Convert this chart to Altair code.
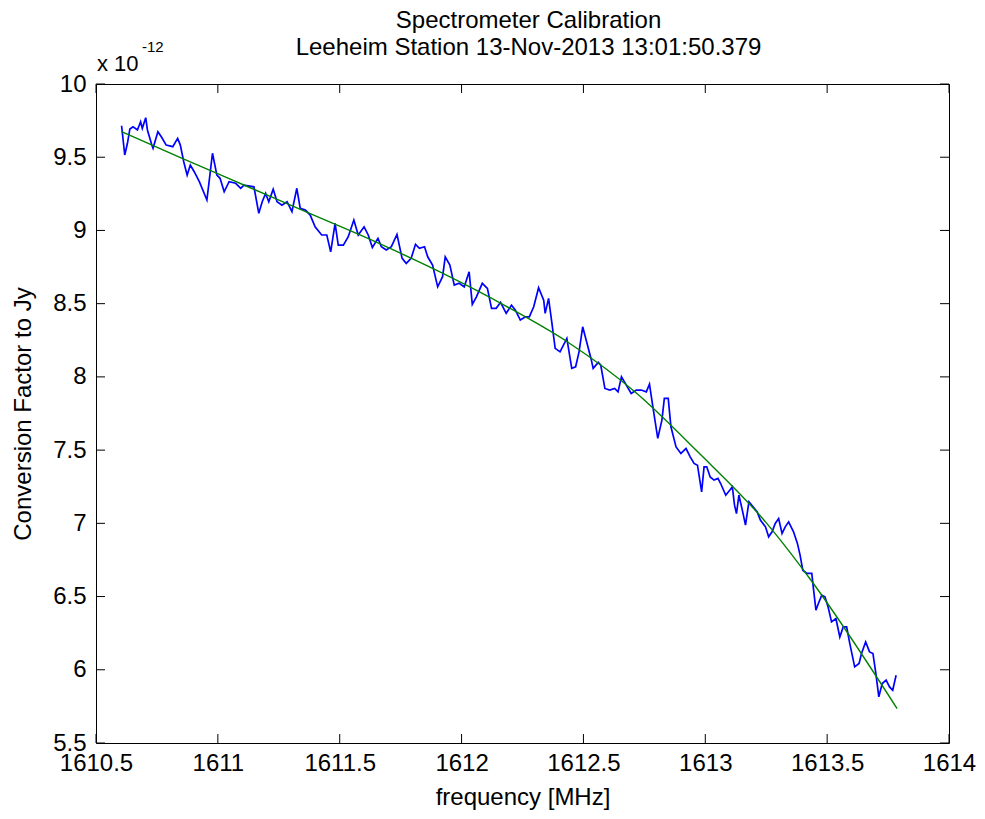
import altair as alt
import pandas as pd

FONT = "Liberation Sans"
FS = 24

# Measured spectrum (blue)
freq_blue = [1610.605, 1610.618, 1610.629, 1610.639, 1610.652, 1610.670, 1610.683, 1610.690, 1610.704, 1610.711,
             1610.729, 1610.734, 1610.754, 1610.768, 1610.788, 1610.815, 1610.835, 1610.846, 1610.860, 1610.874,
             1610.887, 1610.903, 1610.924, 1610.955, 1610.969, 1610.978, 1610.996, 1611.009, 1611.026, 1611.046,
             1611.073, 1611.094, 1611.107, 1611.148, 1611.168, 1611.182, 1611.196, 1611.209, 1611.227, 1611.243,
             1611.263, 1611.284, 1611.304, 1611.324, 1611.338, 1611.359, 1611.379, 1611.399, 1611.426, 1611.447,
             1611.463, 1611.481, 1611.494, 1611.515, 1611.535, 1611.558, 1611.576, 1611.600, 1611.617, 1611.634,
             1611.657, 1611.671, 1611.691, 1611.712, 1611.735, 1611.756, 1611.773, 1611.793, 1611.811, 1611.827,
             1611.848, 1611.861, 1611.881, 1611.902, 1611.922, 1611.933, 1611.952, 1611.970, 1611.990, 1612.011,
             1612.031, 1612.044, 1612.061, 1612.085, 1612.106, 1612.123, 1612.142, 1612.160, 1612.183, 1612.205,
             1612.221, 1612.241, 1612.262, 1612.278, 1612.296, 1612.316, 1612.337, 1612.343, 1612.357, 1612.370,
             1612.384, 1612.404, 1612.418, 1612.432, 1612.452, 1612.468, 1612.482, 1612.497, 1612.513, 1612.531,
             1612.540, 1612.561, 1612.571, 1612.588, 1612.608, 1612.628, 1612.642, 1612.656, 1612.676, 1612.696,
             1612.717, 1612.737, 1612.758, 1612.771, 1612.785, 1612.805, 1612.822, 1612.832, 1612.848, 1612.859,
             1612.880, 1612.900, 1612.921, 1612.938, 1612.954, 1612.968, 1612.985, 1612.995, 1613.006, 1613.020,
             1613.036, 1613.052, 1613.063, 1613.084, 1613.101, 1613.111, 1613.120, 1613.128, 1613.138, 1613.152,
             1613.165, 1613.179, 1613.196, 1613.213, 1613.226, 1613.247, 1613.260, 1613.274, 1613.287, 1613.301,
             1613.315, 1613.328, 1613.342, 1613.362, 1613.378, 1613.389, 1613.400, 1613.417, 1613.437, 1613.443,
             1613.454, 1613.464, 1613.478, 1613.491, 1613.504, 1613.518, 1613.536, 1613.552, 1613.566, 1613.580,
             1613.593, 1613.613, 1613.631, 1613.641, 1613.658, 1613.674, 1613.688, 1613.699, 1613.712, 1613.726,
             1613.742, 1613.756, 1613.769, 1613.783]
conv_blue = [9.715, 9.515, 9.595, 9.693, 9.708, 9.686, 9.742, 9.697, 9.770, 9.686,
             9.583, 9.561, 9.674, 9.640, 9.583, 9.572, 9.629, 9.583, 9.469, 9.378,
             9.447, 9.401, 9.333, 9.208, 9.401, 9.527, 9.378, 9.356, 9.264, 9.333,
             9.322, 9.288, 9.310, 9.298, 9.117, 9.196, 9.253, 9.196, 9.281, 9.196,
             9.173, 9.196, 9.128, 9.288, 9.151, 9.139, 9.105, 9.025, 8.969, 8.969,
             8.854, 9.048, 8.900, 8.900, 8.957, 9.071, 8.969, 9.025, 8.969, 8.884,
             8.946, 8.889, 8.866, 8.889, 8.973, 8.809, 8.775, 8.809, 8.905, 8.878,
             8.889, 8.820, 8.764, 8.615, 8.684, 8.820, 8.764, 8.627, 8.639, 8.615,
             8.718, 8.495, 8.547, 8.639, 8.604, 8.468, 8.468, 8.509, 8.434, 8.490,
             8.456, 8.388, 8.410, 8.410, 8.479, 8.609, 8.524, 8.434, 8.536, 8.376,
             8.195, 8.171, 8.217, 8.263, 8.058, 8.069, 8.171, 8.342, 8.240, 8.126,
             8.058, 8.099, 8.080, 7.921, 7.910, 7.921, 7.898, 8.001, 7.944, 7.887,
             7.910, 7.910, 7.898, 7.951, 7.796, 7.580, 7.705, 7.853, 7.853, 7.659,
             7.522, 7.477, 7.511, 7.454, 7.409, 7.397, 7.215, 7.386, 7.386, 7.317,
             7.295, 7.307, 7.272, 7.192, 7.227, 7.249, 7.124, 7.067, 7.192, 7.090,
             6.988, 7.147, 7.113, 7.078, 7.022, 6.976, 6.908, 6.942, 6.999, 7.033,
             6.931, 6.976, 7.010, 6.942, 6.863, 6.783, 6.680, 6.658, 6.658, 6.566,
             6.407, 6.453, 6.509, 6.498, 6.429, 6.327, 6.350, 6.224, 6.293, 6.293,
             6.179, 6.020, 6.043, 6.111, 6.190, 6.122, 6.111, 5.985, 5.815, 5.906,
             5.929, 5.883, 5.860, 5.963]

# Polynomial fit (green)
freq_fit = [1610.605, 1610.849, 1611.121, 1611.379, 1611.657, 1611.909, 1612.180,
            1612.438, 1612.717, 1612.968, 1613.247, 1613.430, 1613.787]
conv_fit = [9.675, 9.495, 9.300, 9.115, 8.915, 8.718, 8.485,
            8.235, 7.890, 7.490, 7.010, 6.620, 5.735]

x_ticks = [1610.5, 1611, 1611.5, 1612, 1612.5, 1613, 1613.5, 1614]
y_ticks = [5.5, 6, 6.5, 7, 7.5, 8, 8.5, 9, 9.5, 10]

title_line1 = ["Spectrometer Calibration"]
title_line2 = ["Leeheim Station 13-Nov-2013 13:01:50.379"]
x_title = "frequency [MHz]"
y_title = "Conversion Factor to Jy"
exp_base = ["x 10"]
exp_power = ["-12"]

W, H = 853, 659

blue_df = pd.DataFrame({"f": freq_blue, "c": conv_blue})
fit_df = pd.DataFrame({"f": freq_fit, "c": conv_fit})
xt_df = pd.DataFrame({"f": x_ticks})
yt_df = pd.DataFrame({"c": y_ticks})

xs = alt.Scale(domain=[1610.5, 1614], nice=False, zero=False)
ys = alt.Scale(domain=[5.5, 10], nice=False, zero=False)

x_axis = alt.Axis(values=x_ticks, format="~g", title=x_title, grid=False,
                  tickSize=0, domain=False, labelPadding=8, titlePadding=10,
                  labelFlush=False, labelOverlap=False)
y_axis = alt.Axis(values=y_ticks, format="~g", title=y_title, grid=False,
                  tickSize=0, domain=False, labelPadding=10, titlePadding=17,
                  labelFlush=False, labelOverlap=False)

blue = alt.Chart(blue_df).mark_line(color="#0000ff", strokeWidth=1.7).encode(
    x=alt.X("f:Q", scale=xs, axis=x_axis),
    y=alt.Y("c:Q", scale=ys, axis=y_axis),
)
green = alt.Chart(fit_df).mark_line(color="#008000", strokeWidth=1.4, interpolate="monotone").encode(
    x=alt.X("f:Q", scale=xs, axis=x_axis), y=alt.Y("c:Q", scale=ys, axis=y_axis)
)

tick_len = 9
xt_bottom = alt.Chart(xt_df).mark_rule(color="black", strokeWidth=1).encode(
    x=alt.X("f:Q", scale=xs, axis=x_axis), y=alt.value(H), y2=alt.value(H - tick_len))
xt_top = alt.Chart(xt_df).mark_rule(color="black", strokeWidth=1).encode(
    x=alt.X("f:Q", scale=xs, axis=x_axis), y=alt.value(0), y2=alt.value(tick_len))
yt_left = alt.Chart(yt_df).mark_rule(color="black", strokeWidth=1).encode(
    y=alt.Y("c:Q", scale=ys, axis=y_axis), x=alt.value(0), x2=alt.value(tick_len))
yt_right = alt.Chart(yt_df).mark_rule(color="black", strokeWidth=1).encode(
    y=alt.Y("c:Q", scale=ys, axis=y_axis), x=alt.value(W), x2=alt.value(W - tick_len))


def label(txt, x, y, size, align="left"):
    return alt.Chart(pd.DataFrame({"t": txt})).mark_text(
        align=align, baseline="alphabetic", fontSize=size, font=FONT, color="black"
    ).encode(text="t:N", x=alt.value(x), y=alt.value(y))


exp1 = label(exp_base, 1, -13, 22)
exp2 = label(exp_power, 46, -32, 15)
t1 = label(title_line1, W / 2 + 6, -56, FS, "center")
t2 = label(title_line2, W / 2 + 6, -29, FS, "center")

chart = alt.layer(blue, green, xt_bottom, xt_top, yt_left, yt_right, exp1, exp2, t1, t2).properties(
    width=W, height=H,
    autosize=alt.AutoSizeParams(type="none"),
    padding={"left": 88, "top": 76, "right": 28, "bottom": 68},
).configure_axis(
    labelFont=FONT, titleFont=FONT, labelFontSize=FS, titleFontSize=FS,
    labelColor="black", titleColor="black", titleFontWeight="normal",
).configure_view(stroke="black", strokeWidth=1)

chart.save("out.html", embed_options={"renderer": "svg", "actions": False})
